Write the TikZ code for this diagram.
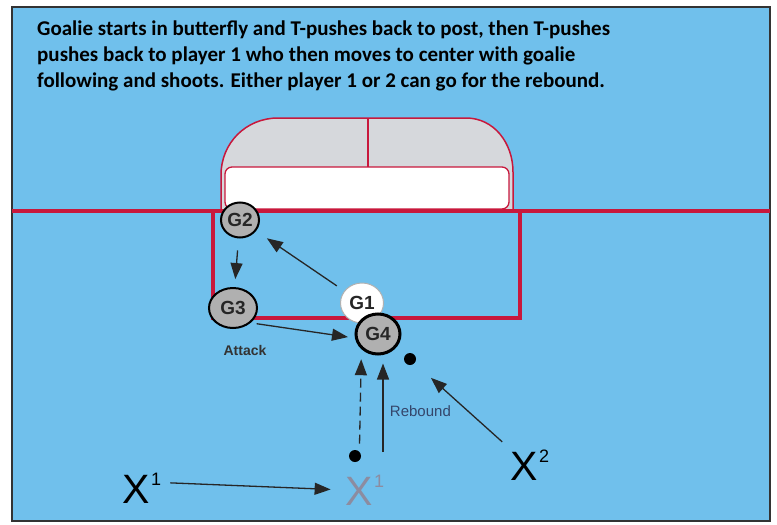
\documentclass[tikz,border=0pt]{standalone}
\usepackage{fontspec}
\setmainfont{Liberation Sans}
\newfontfamily\notefont{Carlito}
\usetikzlibrary{shapes.geometric, arrows.meta, positioning, calc}
\definecolor{iceblue}{RGB}{112,192,236}
\definecolor{creasered}{RGB}{200,24,60}
\definecolor{padgray}{RGB}{176,176,176}
\definecolor{netgray}{RGB}{214,216,220}
\definecolor{ghostgray}{RGB}{140,140,160}
\definecolor{slateblue}{RGB}{52,70,107}
\newcommand{\pnum}[1]{\kern1pt\raisebox{18pt}{\fontsize{18}{18}\selectfont #1}}
\tikzstyle{goalie} = [ellipse, draw=black, line width=2pt, fill=padgray, inner sep=0pt, text=black!85, font=\fontsize{19}{19}\selectfont\bfseries]
\tikzstyle{puck} = [circle, fill=black, minimum size=12pt, inner sep=0pt]
\tikzstyle{player} = [inner sep=1pt, font=\fontsize{41}{41}\selectfont]
\tikzstyle{crease} = [draw=creasered, line width=3.5pt]
\tikzstyle{arrow} = [line width=1.3pt, black!85, -{Triangle[length=16pt, width=12pt]}]

\begin{document}
\begin{tikzpicture}[x=1pt, y=-1pt, node distance=6pt]
\useasboundingbox (0,0) rectangle (777,525);

% Rink
\draw [fill=iceblue, draw=black!80, line width=1.2pt] (12,7) rectangle (770,521);
\node (note) [anchor=north west, align=left, inner sep=0pt, font=\notefont\bfseries\fontsize{21}{26}\selectfont] at (37,21)
  {Goalie starts in butterfly and T-pushes back to post, then T-pushes\\
   pushes back to player 1 who then moves to center with goalie\\
   following and shoots. Either player 1 or 2 can go for the rebound.};

% Net and crease
\draw [fill=netgray, draw=creasered, line width=1.5pt] (221,209) -- (221,175) .. controls (221,143) and (246,118) .. (278,118) -- (466,118) .. controls (494,118) and (513,143) .. (513,172) -- (513,209);
\draw [fill=white, draw=creasered, line width=1.3pt, rounded corners=7pt] (225,167) rectangle (509,209);
\draw [creasered, line width=1.5pt] (368,118) -- (368,167);
\draw [crease] (12,211) -- (770,211);
\draw [crease] (213,211) -- (213,318) -- (520,318) -- (520,211);

% Goalie positions
\node (g2) [goalie, minimum width=38pt, minimum height=35pt] at (240,220) {G2};
\node (g3) [goalie, minimum width=48pt, minimum height=40pt] at (233,308) {G3};
\node (g1) [goalie, minimum width=43pt, minimum height=40pt, fill=white, draw=black!30, line width=1pt] at (362,303) {G1};
\node (g4) [goalie, minimum width=44pt, minimum height=40pt, line width=3pt] at (378,334) {G4};
\node (attack) [below=13pt of g3, xshift=12pt, font=\fontsize{14}{14}\selectfont\bfseries, text=black!80] {Attack};

% Players and pucks
\node (puck2) [puck] at (410,359) {};
\node (puck1) [puck] at (355,456) {};
\node (xone) [player] at (142,488) {X\pnum{1}};
\node (xoneb) [player, text=ghostgray] at (365,490) {X\pnum{1}};
\node (xtwo) [player] at (530,465) {X\pnum{2}};
\coordinate (rbstart) at (383,452);

% Arrows
\draw [arrow, shorten <=9pt, shorten >=13pt] (g1) -- (g2);
\draw [arrow, shorten <=12pt, shorten >=8pt] (g2) -- (g3);
\draw [arrow, shorten <=6pt, shorten >=7pt] (g3.south east) -- (g4.190);
\draw [arrow, dash pattern=on 9pt off 5pt, shorten <=8pt, shorten >=10pt] (puck1.north east) -- (g4.south west);
\draw [arrow, shorten >=8pt] (rbstart) -- node[right=3pt, pos=0.42, font=\fontsize{15}{15}\selectfont, text=slateblue] {Rebound} (rbstart |- g4.south);
\draw [arrow, shorten <=10pt, shorten >=22pt] (xtwo.north west) -- (puck2);
\draw [arrow, shorten <=8pt, shorten >=14pt] (xone.15) -- (xoneb.west);

\end{tikzpicture}
\end{document}
